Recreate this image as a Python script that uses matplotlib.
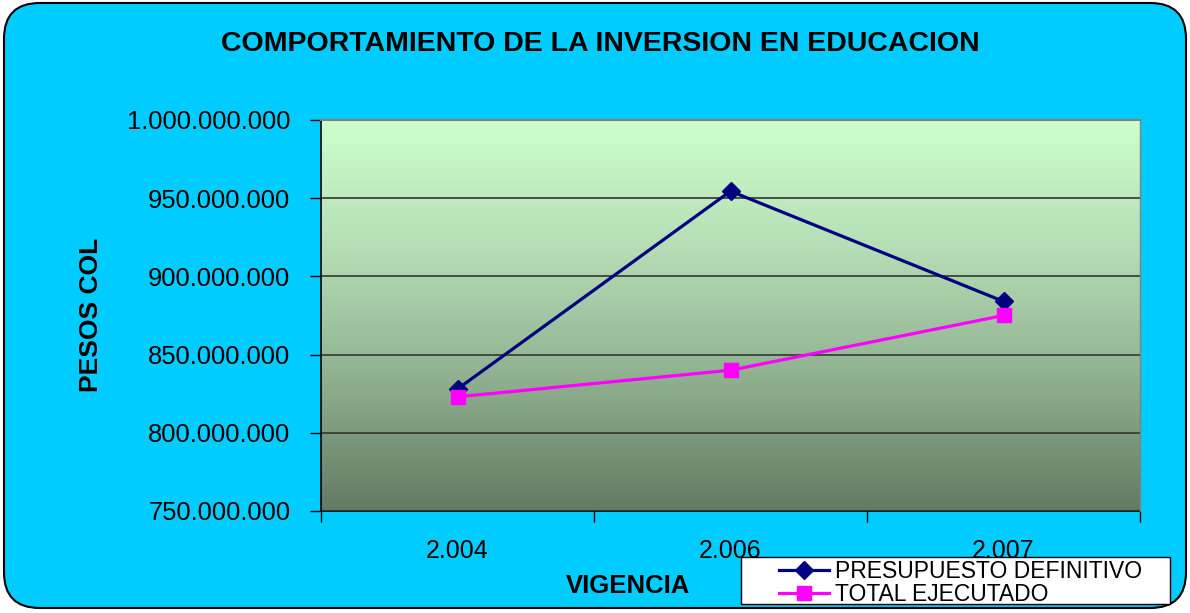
import matplotlib
matplotlib.use("Agg")
import matplotlib.pyplot as plt
import numpy as np
from matplotlib.patches import FancyBboxPatch, Rectangle
from matplotlib.colors import LinearSegmentedColormap
from matplotlib.ticker import FuncFormatter, FixedLocator

categories = ["2.004", "2.006", "2.007"]
presupuesto = [828_000_000, 954_500_000, 884_000_000]
ejecutado = [823_000_000, 840_000_000, 875_000_000]
series_names = ["PRESUPUESTO DEFINITIVO", "TOTAL EJECUTADO"]
title = "COMPORTAMIENTO DE LA INVERSION EN EDUCACION"
ylabel = "PESOS COL"
xlabel = "VIGENCIA"

plt.rcParams['font.family'] = ['Liberation Sans', 'DejaVu Sans']

W, H = 1190, 613
fig = plt.figure(figsize=(W / 100, H / 100), dpi=100)
fig.patch.set_facecolor("white")

bg = FancyBboxPatch((4 / W, 5 / H), (W - 8) / W, (H - 8) / H,
                    boxstyle="round,pad=0,rounding_size=0.03",
                    transform=fig.transFigure, facecolor="#00CCFF",
                    edgecolor="black", linewidth=1.5, mutation_aspect=W / H, zorder=-5)
fig.patches.append(bg)

ax = fig.add_axes([321 / W, (H - 511) / H, (1140 - 321) / W, (511 - 120) / H])
ax.set_facecolor("none")

cmap = LinearSegmentedColormap.from_list("g", ["#637A63", "#8FB08F", "#B5DDB5", "#CCFFCC"])
grad = np.linspace(0, 1, 256).reshape(-1, 1)
ax.imshow(grad, aspect="auto", cmap=cmap, origin="lower",
          extent=[0, 1, 0, 1], transform=ax.transAxes, zorder=0)

x = np.arange(len(categories))
ax.set_xlim(-0.5, len(categories) - 0.5)
ax.set_ylim(750_000_000, 1_000_000_000)
ax.yaxis.set_major_locator(FixedLocator(np.arange(750_000_000, 1_000_000_001, 50_000_000)))
ax.yaxis.set_major_formatter(FuncFormatter(lambda v, p: f"{int(v):,}".replace(",", ".")))
ax.grid(axis="y", color="#303830", linewidth=1.2, zorder=1)
ax.set_axisbelow(False)

l1, = ax.plot(x, presupuesto, color="#000080", linewidth=2.3, marker="D", markersize=9.5,
              label=series_names[0], zorder=3)
l2, = ax.plot(x, ejecutado, color="#FF00FF", linewidth=2.3, marker="s", markersize=9.5,
              label=series_names[1], zorder=4)

ax.set_xticks(x)
ax.set_xticklabels(categories, fontsize=18)
ax.set_xticks(np.arange(-0.5, len(categories), 1.0), minor=True)
ax.tick_params(axis="x", which="major", length=0, pad=20)
ax.tick_params(axis="x", which="minor", length=8, direction="out", width=1)
ax.tick_params(axis="y", labelsize=18.4, length=8, width=1, direction="out", pad=14)

for s in ["top", "right"]:
    ax.spines[s].set_visible(False)
ax.spines["left"].set_linewidth(1.2)
ax.spines["bottom"].set_linewidth(1.2)
ax.plot([0, 1], [1, 1], transform=ax.transAxes, color="#808080", linewidth=1.5, clip_on=False, zorder=5)
ax.plot([1, 1], [0, 1], transform=ax.transAxes, color="#808080", linewidth=1.0, clip_on=False, zorder=5)

fig.text(600 / W, 1 - 44 / H, title, ha="center", va="center", fontsize=20.5, fontweight="bold")
fig.text(91 / W, 1 - 315 / H, ylabel, ha="center", va="center", rotation=90, fontsize=19, fontweight="bold")
fig.text(628 / W, 1 - 586 / H, xlabel, ha="center", va="center", fontsize=18.5, fontweight="bold")

frame = Rectangle((741 / W, (H - 604) / H), (1170 - 741) / W, (604 - 557) / H,
                  transform=fig.transFigure, facecolor="white", edgecolor="black",
                  linewidth=1, zorder=10)
fig.patches.append(frame)

leg = fig.legend(handles=[l1, l2], loc="center left",
                 bbox_to_anchor=(779 / W, 1 - 583 / H),
                 fontsize=16.5, frameon=False, borderpad=0.0,
                 labelspacing=0.0, handlelength=2.2, handletextpad=0.25, borderaxespad=0)
leg.set_zorder(11)

fig.savefig("out.png", dpi=100)
